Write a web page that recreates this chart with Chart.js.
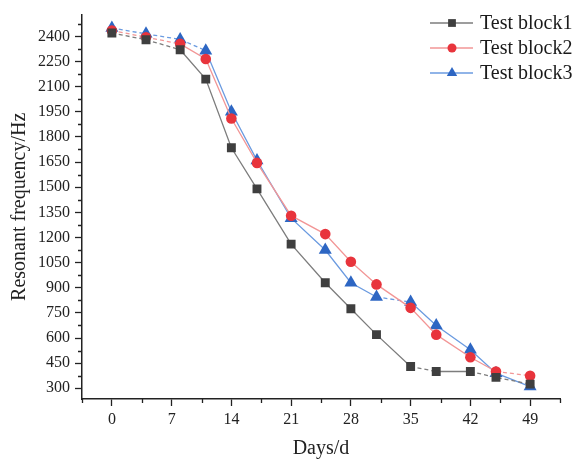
<!DOCTYPE html>
<html>
<head>
<meta charset="utf-8">
<title>Resonant frequency</title>
<script src="https://cdn.jsdelivr.net/npm/chart.js@4.4.1/dist/chart.umd.min.js"></script>
<style>
  html, body { margin:0; padding:0; background:#fff; }
  #wrap { width:586px; height:463px; }
</style>
</head>
<body>
<div id="wrap"><canvas id="chart" width="586" height="463"></canvas></div>
<script>
// measurement days and resonant frequency (Hz) of each test block
const DAYS   = [0, 4, 8, 11, 14, 17, 21, 25, 28, 31, 35, 38, 42, 45, 49];
const BLOCK1 = [2420, 2380, 2320, 2145, 1735, 1490, 1160, 930, 775, 620, 430, 400, 400, 365, 325];
const BLOCK2 = [2435, 2395, 2355, 2265, 1910, 1645, 1330, 1220, 1055, 920, 780, 620, 485, 400, 375];
const BLOCK3 = [2450, 2415, 2382, 2315, 1950, 1660, 1315, 1125, 930, 845, 815, 675, 530, 390, 310];
const NAMES  = ['Test block1', 'Test block2', 'Test block3'];

const X_TICKS = [0, 7, 14, 21, 28, 35, 42, 49];
const Y_TICKS = [300, 450, 600, 750, 900, 1050, 1200, 1350, 1500, 1650, 1800, 1950, 2100, 2250, 2400];

Chart.defaults.font.family = "'Liberation Serif', 'DejaVu Serif', serif";
Chart.defaults.color = '#222';

function pts(vals) {
  return DAYS.map(function(d, i) { return { x:d, y:vals[i] }; });
}

// segments drawn dashed (index of the segment's first point)
function dashed(list) {
  return { borderDash: function(ctx) { return list.indexOf(ctx.p0DataIndex) >= 0 ? [4, 3] : undefined; } };
}

// small ticks between the labelled ones
const minorTicks = {
  id: 'minorTicks',
  afterDraw: function(chart) {
    var ctx = chart.ctx, xs = chart.scales.x, ys = chart.scales.y;
    ctx.save();
    ctx.strokeStyle = '#222';
    ctx.lineWidth = 1.3;
    ctx.beginPath();
    for (var v = -3.5; v <= 52.5; v += 7) {
      var px = Math.round(xs.getPixelForValue(v)) + 0.5;
      ctx.moveTo(px, ys.bottom); ctx.lineTo(px, ys.bottom + 4);
    }
    for (var w = 375; w < ys.max; w += 150) {
      var py = Math.round(ys.getPixelForValue(w)) + 0.5;
      ctx.moveTo(xs.left, py); ctx.lineTo(xs.left - 4, py);
    }
    ctx.stroke();
    ctx.restore();
  }
};

// legend box in the upper right: line sample, marker and name
const lineLegend = {
  id: 'lineLegend',
  afterDraw: function(chart) {
    var ctx = chart.ctx;
    var x0 = chart.chartArea.right - 130, y0 = 23, gap = 25;
    ctx.save();
    chart.data.datasets.forEach(function(ds, i) {
      var y = y0 + i * gap;
      ctx.strokeStyle = ds.borderColor;
      ctx.lineWidth = 1.3;
      ctx.beginPath(); ctx.moveTo(x0, y); ctx.lineTo(x0 + 43, y); ctx.stroke();
      ctx.fillStyle = ds.pointBackgroundColor;
      ctx.strokeStyle = ds.pointBackgroundColor;
      Chart.helpers.drawPoint(ctx, { pointStyle: ds.pointStyle, radius: ds.legendRadius, rotation: 0, borderWidth: 0 }, x0 + 22, y);
      ctx.fillStyle = '#1a1a1a';
      ctx.font = "20px 'Liberation Serif', serif";
      ctx.textBaseline = 'middle';
      ctx.fillText(NAMES[i], x0 + 50, y + 1);
    });
    ctx.restore();
  }
};

function plain(v) { return String(v); }

new Chart(document.getElementById('chart'), {
  type: 'line',
  data: {
    datasets: [
      { label: NAMES[0], data: pts(BLOCK1), borderColor: '#7d7d7d', pointBackgroundColor: '#3f3f3f', pointBorderColor: '#3f3f3f',
        pointStyle: 'rect', pointRadius: 6.3, legendRadius: 5.5, segment: dashed([0, 1, 10, 12, 13]) },
      { label: NAMES[1], data: pts(BLOCK2), borderColor: '#f29696', pointBackgroundColor: '#e8343c', pointBorderColor: '#e8343c',
        pointStyle: 'circle', pointRadius: 5.3, legendRadius: 4.5, segment: dashed([0, 1, 13]) },
      { label: NAMES[2], data: pts(BLOCK3), borderColor: '#6b9be0', pointBackgroundColor: '#2d66c3', pointBorderColor: '#2d66c3',
        pointStyle: 'triangle', pointRadius: 7.5, legendRadius: 6, segment: dashed([0, 1, 2, 9]) }
    ]
  },
  options: {
    responsive: false,
    animation: false,
    devicePixelRatio: 1,
    layout: { padding: { left:0, right:26, top:7, bottom:0 } },
    elements: {
      line: { borderWidth: 1.3, tension: 0 },
      point: { borderWidth: 0, hoverRadius: 6 }
    },
    plugins: { legend: { display:false }, tooltip: { enabled:false } },
    scales: {
      x: {
        type: 'linear', min: -3.5, max: 52.5,
        afterBuildTicks: function(s) { s.ticks = X_TICKS.map(function(v) { return { value:v }; }); },
        afterFit: function(s) { s.height = 64; },
        border: { display:true, color:'#222', width:1.5 },
        grid: { drawOnChartArea:false, drawTicks:true, tickLength:7, tickColor:'#222', tickWidth:1.3 },
        ticks: { font:{ size:16 }, padding:4, maxRotation:0, callback: plain },
        title: { display:true, text:'Days/d', font:{ size:20 }, padding:{ top:0, bottom:2 } }
      },
      y: {
        type: 'linear', min: 236, max: 2530,
        afterBuildTicks: function(s) { s.ticks = Y_TICKS.map(function(v) { return { value:v }; }); },
        afterFit: function(s) { s.width = 82; },
        border: { display:true, color:'#222', width:1.5 },
        grid: { drawOnChartArea:false, drawTicks:true, tickLength:7, tickColor:'#222', tickWidth:1.3 },
        ticks: { font:{ size:16 }, padding:5, callback: plain },
        title: { display:true, text:'Resonant frequency/Hz', font:{ size:20 }, padding:{ top:8, bottom:0 } }
      }
    }
  },
  plugins: [minorTicks, lineLegend]
});
</script>
</body>
</html>
